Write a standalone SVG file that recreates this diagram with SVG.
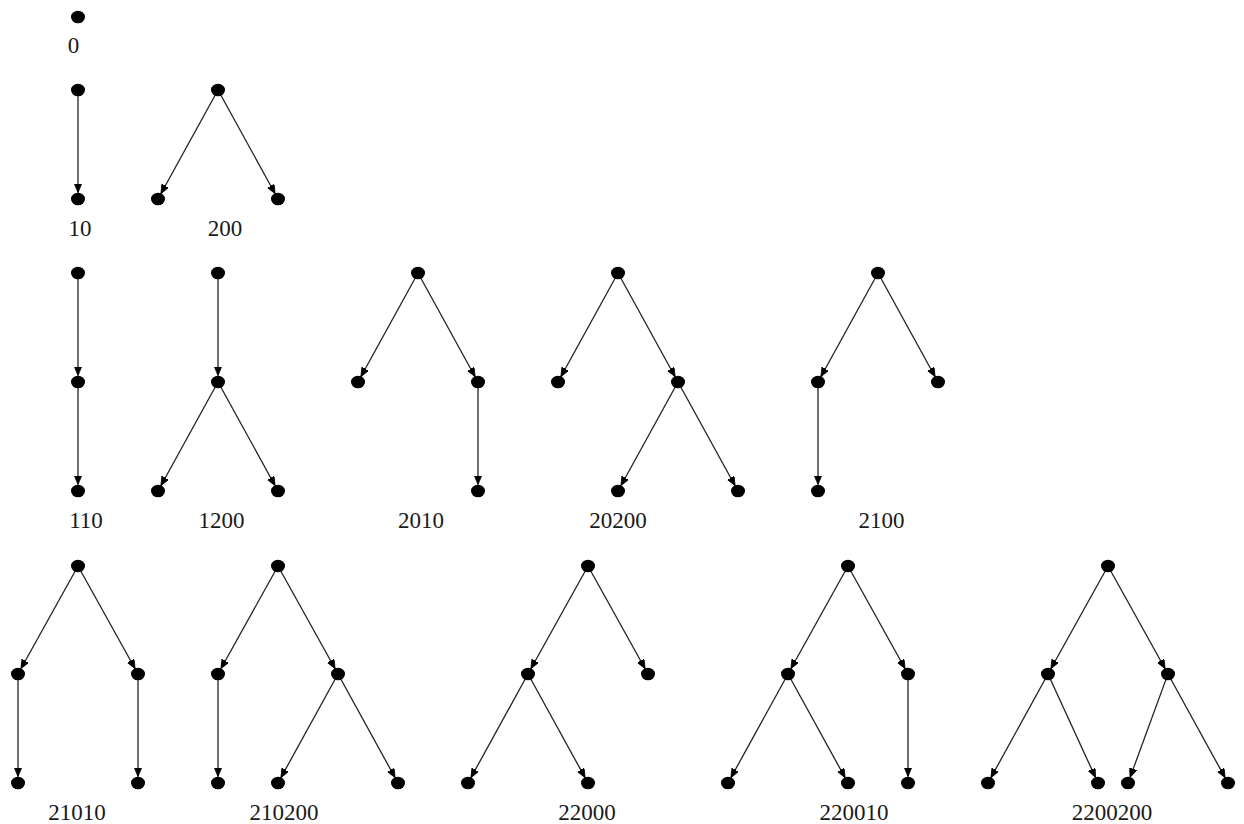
<svg xmlns="http://www.w3.org/2000/svg" width="1244" height="824" viewBox="0 0 1244 824">
<style>
.n{fill:#000;}
.e{stroke:#222;stroke-width:1.3;fill:none;marker-end:url(#arr);}
.l{font-family:"Liberation Serif","Times New Roman",serif;font-size:23px;fill:#1a1a1a;text-anchor:middle;}
</style>
<defs>
<marker id="arr" markerUnits="userSpaceOnUse" markerWidth="12" markerHeight="10" refX="9" refY="3.75" orient="auto">
<path d="M0,0 L9,3.75 L0,7.5 Z" fill="#000" stroke="#000" stroke-width="0.8"/>
</marker>
<ellipse id="dot" cx="0" cy="0" rx="7" ry="6.3"/>
</defs>
<rect width="1244" height="824" fill="#fff"/>
<g id="connectors">
<line class="e" x1="78" y1="96" x2="78" y2="192.5"/>
<line class="e" x1="215.1" y1="95.3" x2="160.9" y2="193.7"/>
<line class="e" x1="220.9" y1="95.3" x2="275.1" y2="193.7"/>
<line class="e" x1="78" y1="279" x2="78" y2="375.5"/>
<line class="e" x1="78" y1="388" x2="78" y2="484.5"/>
<line class="e" x1="218" y1="279" x2="218" y2="375.5"/>
<line class="e" x1="215.1" y1="387.3" x2="160.9" y2="485.7"/>
<line class="e" x1="220.9" y1="387.3" x2="275.1" y2="485.7"/>
<line class="e" x1="415.1" y1="278.3" x2="360.9" y2="376.7"/>
<line class="e" x1="420.9" y1="278.3" x2="475.1" y2="376.7"/>
<line class="e" x1="478" y1="388" x2="478" y2="484.5"/>
<line class="e" x1="615.1" y1="278.3" x2="560.9" y2="376.7"/>
<line class="e" x1="620.9" y1="278.3" x2="675.1" y2="376.7"/>
<line class="e" x1="675.1" y1="387.3" x2="620.9" y2="485.7"/>
<line class="e" x1="680.9" y1="387.3" x2="735.1" y2="485.7"/>
<line class="e" x1="875.1" y1="278.3" x2="820.9" y2="376.7"/>
<line class="e" x1="880.9" y1="278.3" x2="935.1" y2="376.7"/>
<line class="e" x1="818" y1="388" x2="818" y2="484.5"/>
<line class="e" x1="75.1" y1="571.3" x2="20.9" y2="668.7"/>
<line class="e" x1="80.9" y1="571.3" x2="135.1" y2="668.7"/>
<line class="e" x1="18" y1="680" x2="18" y2="776.5"/>
<line class="e" x1="138" y1="680" x2="138" y2="776.5"/>
<line class="e" x1="275.1" y1="571.3" x2="220.9" y2="668.7"/>
<line class="e" x1="280.9" y1="571.3" x2="335.1" y2="668.7"/>
<line class="e" x1="218" y1="680" x2="218" y2="776.5"/>
<line class="e" x1="335.1" y1="679.3" x2="280.9" y2="777.7"/>
<line class="e" x1="340.9" y1="679.3" x2="395.1" y2="777.7"/>
<line class="e" x1="585.1" y1="571.3" x2="530.9" y2="668.7"/>
<line class="e" x1="590.9" y1="571.3" x2="645.1" y2="668.7"/>
<line class="e" x1="525.1" y1="679.3" x2="470.9" y2="777.7"/>
<line class="e" x1="530.9" y1="679.3" x2="585.1" y2="777.7"/>
<line class="e" x1="845.1" y1="571.3" x2="790.9" y2="668.7"/>
<line class="e" x1="850.9" y1="571.3" x2="905.1" y2="668.7"/>
<line class="e" x1="785.1" y1="679.3" x2="730.9" y2="777.7"/>
<line class="e" x1="790.9" y1="679.3" x2="845.1" y2="777.7"/>
<line class="e" x1="908" y1="680" x2="908" y2="776.5"/>
<line class="e" x1="1105.1" y1="571.3" x2="1050.9" y2="668.7"/>
<line class="e" x1="1110.9" y1="571.3" x2="1165.1" y2="668.7"/>
<line class="e" x1="1045.1" y1="679.3" x2="990.9" y2="777.7"/>
<line class="e" x1="1050.5" y1="679.5" x2="1095.5" y2="777.5"/>
<line class="e" x1="1165.9" y1="679.6" x2="1130.1" y2="777.4"/>
<line class="e" x1="1170.9" y1="679.3" x2="1225.1" y2="777.7"/>
</g>
<g id="tree-0">
<g id="n0-a"><use href="#dot" class="n" x="78" y="17"/></g>
<text class="l" x="73.5" y="53">0</text>
</g>
<g id="tree-10">
<g id="n10-a"><use href="#dot" class="n" x="78" y="90"/></g>
<g id="n10-b"><use href="#dot" class="n" x="78" y="199"/></g>
<text class="l" x="80" y="236">10</text>
</g>
<g id="tree-200">
<g id="n200-a"><use href="#dot" class="n" x="218" y="90"/></g>
<g id="n200-b"><use href="#dot" class="n" x="158" y="199"/></g>
<g id="n200-c"><use href="#dot" class="n" x="278" y="199"/></g>
<text class="l" x="225" y="236">200</text>
</g>
<g id="tree-110">
<g id="n110-a"><use href="#dot" class="n" x="78" y="273"/></g>
<g id="n110-b"><use href="#dot" class="n" x="78" y="382"/></g>
<g id="n110-c"><use href="#dot" class="n" x="78" y="491"/></g>
<text class="l" x="86" y="528">110</text>
</g>
<g id="tree-1200">
<g id="n1200-a"><use href="#dot" class="n" x="218" y="273"/></g>
<g id="n1200-b"><use href="#dot" class="n" x="218" y="382"/></g>
<g id="n1200-c"><use href="#dot" class="n" x="158" y="491"/></g>
<g id="n1200-d"><use href="#dot" class="n" x="278" y="491"/></g>
<text class="l" x="221.5" y="528">1200</text>
</g>
<g id="tree-2010">
<g id="n2010-a"><use href="#dot" class="n" x="418" y="273"/></g>
<g id="n2010-b"><use href="#dot" class="n" x="358" y="382"/></g>
<g id="n2010-c"><use href="#dot" class="n" x="478" y="382"/></g>
<g id="n2010-d"><use href="#dot" class="n" x="478" y="491"/></g>
<text class="l" x="421" y="528">2010</text>
</g>
<g id="tree-20200">
<g id="n20200-a"><use href="#dot" class="n" x="618" y="273"/></g>
<g id="n20200-b"><use href="#dot" class="n" x="558" y="382"/></g>
<g id="n20200-c"><use href="#dot" class="n" x="678" y="382"/></g>
<g id="n20200-d"><use href="#dot" class="n" x="618" y="491"/></g>
<g id="n20200-e"><use href="#dot" class="n" x="738" y="491"/></g>
<text class="l" x="618" y="528">20200</text>
</g>
<g id="tree-2100">
<g id="n2100-a"><use href="#dot" class="n" x="878" y="273"/></g>
<g id="n2100-b"><use href="#dot" class="n" x="818" y="382"/></g>
<g id="n2100-c"><use href="#dot" class="n" x="938" y="382"/></g>
<g id="n2100-d"><use href="#dot" class="n" x="818" y="491"/></g>
<text class="l" x="881.5" y="528">2100</text>
</g>
<g id="tree-21010">
<g id="n21010-a"><use href="#dot" class="n" x="78" y="566"/></g>
<g id="n21010-b"><use href="#dot" class="n" x="18" y="674"/></g>
<g id="n21010-c"><use href="#dot" class="n" x="138" y="674"/></g>
<g id="n21010-d"><use href="#dot" class="n" x="18" y="783"/></g>
<g id="n21010-e"><use href="#dot" class="n" x="138" y="783"/></g>
<text class="l" x="77" y="820">21010</text>
</g>
<g id="tree-210200">
<g id="n210200-a"><use href="#dot" class="n" x="278" y="566"/></g>
<g id="n210200-b"><use href="#dot" class="n" x="218" y="674"/></g>
<g id="n210200-c"><use href="#dot" class="n" x="338" y="674"/></g>
<g id="n210200-d"><use href="#dot" class="n" x="218" y="783"/></g>
<g id="n210200-e"><use href="#dot" class="n" x="278" y="783"/></g>
<g id="n210200-f"><use href="#dot" class="n" x="398" y="783"/></g>
<text class="l" x="284" y="820">210200</text>
</g>
<g id="tree-22000">
<g id="n22000-a"><use href="#dot" class="n" x="588" y="566"/></g>
<g id="n22000-b"><use href="#dot" class="n" x="528" y="674"/></g>
<g id="n22000-c"><use href="#dot" class="n" x="648" y="674"/></g>
<g id="n22000-d"><use href="#dot" class="n" x="468" y="783"/></g>
<g id="n22000-e"><use href="#dot" class="n" x="588" y="783"/></g>
<text class="l" x="587" y="820">22000</text>
</g>
<g id="tree-220010">
<g id="n220010-a"><use href="#dot" class="n" x="848" y="566"/></g>
<g id="n220010-b"><use href="#dot" class="n" x="788" y="674"/></g>
<g id="n220010-c"><use href="#dot" class="n" x="908" y="674"/></g>
<g id="n220010-d"><use href="#dot" class="n" x="728" y="783"/></g>
<g id="n220010-e"><use href="#dot" class="n" x="848" y="783"/></g>
<g id="n220010-f"><use href="#dot" class="n" x="908" y="783"/></g>
<text class="l" x="854" y="820">220010</text>
</g>
<g id="tree-2200200">
<g id="n2200200-a"><use href="#dot" class="n" x="1108" y="566"/></g>
<g id="n2200200-b"><use href="#dot" class="n" x="1048" y="674"/></g>
<g id="n2200200-c"><use href="#dot" class="n" x="1168" y="674"/></g>
<g id="n2200200-d"><use href="#dot" class="n" x="988" y="783"/></g>
<g id="n2200200-e"><use href="#dot" class="n" x="1098" y="783"/></g>
<g id="n2200200-f"><use href="#dot" class="n" x="1128" y="783"/></g>
<g id="n2200200-g"><use href="#dot" class="n" x="1228" y="783"/></g>
<text class="l" x="1112" y="820">2200200</text>
</g>
</svg>
